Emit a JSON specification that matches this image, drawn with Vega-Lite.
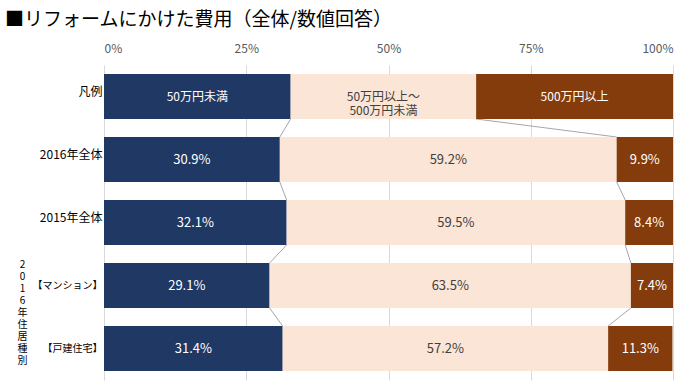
{
  "$schema": "https://vega.github.io/schema/vega-lite/v6.json",
  "width": 569,
  "height": 315,
  "autosize": {"type": "none"},
  "padding": {"left": 104, "top": 65, "right": 17, "bottom": 5},
  "background": "white",
  "config": {"view": {"stroke": null}, "font": "Noto Sans CJK JP"},
  "title": {
    "text": "■リフォームにかけた費用（全体/数値回答）",
    "anchor": "start",
    "frame": "group",
    "dx": -99,
    "offset": 12,
    "fontSize": 19,
    "fontWeight": "normal",
    "color": "#000000",
    "font": "Noto Sans CJK JP"
  },
  "data": {
    "values": [
      {"cat": "凡例", "seg": 1, "order": 0, "value": 32.8, "name": "50万円未満"},
      {"cat": "凡例", "seg": 2, "order": 0, "value": 32.6, "name": "50万円以上～\n500万円未満"},
      {"cat": "凡例", "seg": 3, "order": 0, "value": 34.6, "name": "500万円以上"},
      {"cat": "2016年全体", "seg": 1, "order": 1, "value": 30.9},
      {"cat": "2016年全体", "seg": 2, "order": 1, "value": 59.2},
      {"cat": "2016年全体", "seg": 3, "order": 1, "value": 9.9},
      {"cat": "2015年全体", "seg": 1, "order": 2, "value": 32.1},
      {"cat": "2015年全体", "seg": 2, "order": 2, "value": 59.5},
      {"cat": "2015年全体", "seg": 3, "order": 2, "value": 8.4},
      {"cat": "【マンション】", "seg": 1, "order": 3, "value": 29.1},
      {"cat": "【マンション】", "seg": 2, "order": 3, "value": 63.5},
      {"cat": "【マンション】", "seg": 3, "order": 3, "value": 7.4},
      {"cat": "【戸建住宅】", "seg": 1, "order": 4, "value": 31.4},
      {"cat": "【戸建住宅】", "seg": 2, "order": 4, "value": 57.2},
      {"cat": "【戸建住宅】", "seg": 3, "order": 4, "value": 11.3}
    ]
  },
  "transform": [
    {"stack": "value", "groupby": ["cat"], "sort": [{"field": "seg"}], "as": ["v0", "v1"]},
    {"calculate": "(datum.v0 + datum.v1) / 2", "as": "mid"},
    {"calculate": "datum.name ? datum.name : format(datum.value, '.1f') + '%'", "as": "label"}
  ],
  "layer": [
    {
      "transform": [
        {"filter": "datum.seg < 3"},
        {
          "window": [
            {"op": "lead", "field": "v1", "as": "nv1"},
            {"op": "lead", "field": "cat", "as": "ncat"}
          ],
          "groupby": ["seg"],
          "sort": [{"field": "order"}]
        },
        {"filter": "datum.ncat != null"}
      ],
      "mark": {"type": "rule", "color": "#a6a6a6", "strokeWidth": 1},
      "encoding": {
        "x": {"field": "v1", "type": "quantitative"},
        "x2": {"field": "nv1"},
        "y": {
          "field": "cat",
          "type": "nominal",
          "bandPosition": 1,
          "sort": ["凡例", "2016年全体", "2015年全体", "【マンション】", "【戸建住宅】"]
        },
        "y2": {"field": "ncat", "bandPosition": 0}
      }
    },
    {
      "mark": {"type": "bar"},
      "encoding": {
        "x": {
          "field": "v0",
          "type": "quantitative",
          "scale": {"domain": [0, 100], "nice": false},
          "axis": {
            "orient": "top",
            "values": [0, 25, 50, 75, 100],
            "labelExpr": "datum.value + '%'",
            "domain": false,
            "ticks": false,
            "grid": true,
            "gridColor": "#d9d9d9",
            "gridWidth": 1,
            "labelPadding": 10,
            "labelFontSize": 12,
            "labelColor": "#595959",
            "labelFont": "Noto Sans CJK JP",
            "title": null
          }
        },
        "x2": {"field": "v1"},
        "y": {
          "field": "cat",
          "type": "nominal",
          "sort": ["凡例", "2016年全体", "2015年全体", "【マンション】", "【戸建住宅】"],
          "scale": {"paddingInner": 0.286, "paddingOuter": 0.143},
          "axis": {
            "orient": "left",
            "domain": false,
            "ticks": false,
            "grid": false,
            "labelPadding": 2,
            "labelFontSize": {"condition": {"test": "indexof(datum.value, '【') >= 0", "value": 10}, "value": 12},
            "labelColor": "#000000",
            "labelFont": "Noto Sans CJK JP",
            "labelOffset": {"condition": {"test": "datum.value == '凡例' || datum.value == '2016年全体' || datum.value == '2015年全体'", "value": -5}, "value": 0},
            "title": ["2", "0", "1", "6", "年", "　", "住", "居", "種", "別"],
            "titleAngle": 0,
            "titleX": -82,
            "titleY": 194,
            "titleAlign": "center",
            "titleBaseline": "top",
            "titleFontSize": 10,
            "titleFontWeight": "normal",
            "titleLineHeight": 12,
            "titleColor": "#000000",
            "titleFont": "Noto Sans CJK JP"
          }
        },
        "color": {
          "field": "seg",
          "type": "nominal",
          "scale": {"domain": [1, 2, 3], "range": ["#203864", "#fbe5d6", "#843c0c"]},
          "legend": null
        }
      }
    },
    {
      "mark": {"type": "text", "lineBreak": "\n", "align": "center", "baseline": "middle", "font": "Noto Sans CJK JP"},
      "encoding": {
        "x": {"field": "mid", "type": "quantitative"},
        "y": {
          "field": "cat",
          "type": "nominal",
          "sort": ["凡例", "2016年全体", "2015年全体", "【マンション】", "【戸建住宅】"]
        },
        "text": {"field": "label"},
        "size": {"condition": {"test": "datum.order == 0", "value": 12}, "value": 13},
        "color": {"condition": {"test": "datum.seg == 2", "value": "#404040"}, "value": "#ffffff"}
      }
    }
  ]
}
